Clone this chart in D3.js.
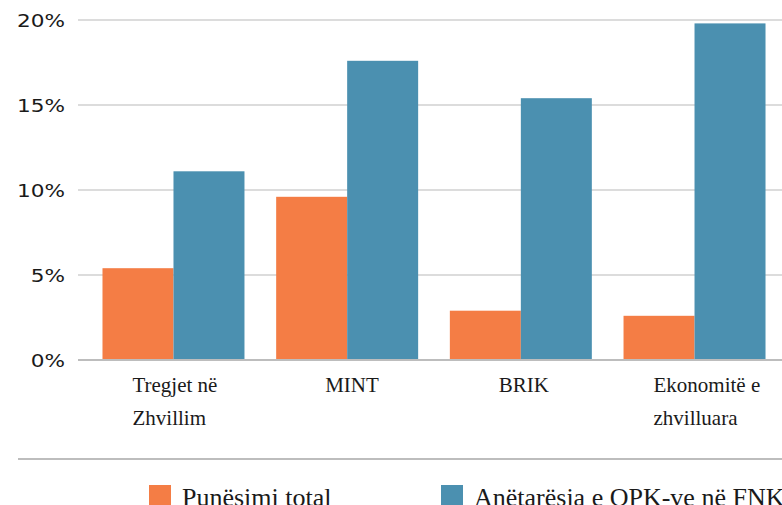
<!DOCTYPE html>
<html>
<head>
<meta charset="utf-8">
<script src="https://cdn.jsdelivr.net/npm/d3@7"></script>
<style>
  html, body { margin: 0; padding: 0; background: #fff; overflow: hidden; }
  svg { display: block; }
</style>
</head>
<body>
<svg id="chart" width="782" height="505"></svg>
<script>
// Data
const categories = ['Tregjet në Zhvillim', 'MINT', 'BRIK', 'Ekonomitë e zhvilluara'];
const categoryLines = [['Tregjet në', 'Zhvillim'], ['MINT'], ['BRIK'], ['Ekonomitë e', 'zhvilluara']];
const seriesNames = ['Punësimi total', 'Anëtarësia e OPK-ve në FNK'];
const punesimi = [5.4, 9.6, 2.9, 2.6];
const anetaresia = [11.1, 17.6, 15.4, 19.8];
const yTicks = [0, 5, 10, 15, 20];
const colors = ['#f47d45', '#4b90b0'];

const rows = categories.map((c, i) => ({ cat: c, values: [punesimi[i], anetaresia[i]] }));

const svg = d3.select('#chart');

// Scales
const x = d3.scaleBand().domain(categories).range([78, 790]).paddingInner(0.1825).paddingOuter(0.141);
const xs = d3.scaleBand().domain(seriesNames).range([0, x.bandwidth()]).padding(0);
const y = d3.scaleLinear().domain([0, 20]).range([360, 20]);

// Gridlines
svg.append('g').selectAll('line').data(yTicks.filter(t => t > 0)).enter()
  .append('line')
  .attr('x1', 78).attr('x2', 782)
  .attr('y1', d => y(d)).attr('y2', d => y(d))
  .attr('stroke', '#dcdcdc').attr('stroke-width', 2);

// Y labels
svg.append('g').selectAll('text').data(yTicks).enter()
  .append('text')
  .attr('transform', d => `translate(65,${y(d) + 1}) scale(1.2,1)`)
  .attr('text-anchor', 'end')
  .attr('dy', '0.35em')
  .attr('font-family', 'DejaVu Sans, sans-serif')
  .attr('font-size', 18)
  .attr('fill', '#1a1a1a')
  .text(d => d + '%');

// Bars
const groups = svg.append('g').selectAll('g').data(rows).enter()
  .append('g').attr('transform', d => `translate(${x(d.cat)},0)`);
groups.selectAll('rect').data(d => d.values.map((v, j) => ({ name: seriesNames[j], v, j }))).enter()
  .append('rect')
  .attr('x', d => xs(d.name))
  .attr('width', xs.bandwidth())
  .attr('y', d => y(d.v))
  .attr('height', d => y(0) - y(d.v))
  .attr('fill', d => colors[d.j]);

// Baseline
svg.append('line')
  .attr('x1', 78).attr('x2', 782)
  .attr('y1', y(0)).attr('y2', y(0))
  .attr('stroke', '#bdbdbd').attr('stroke-width', 2);

// Category labels (left-aligned block)
const lab = svg.append('g').selectAll('text').data(categories).enter()
  .append('text')
  .attr('font-family', 'Liberation Serif, serif')
  .attr('font-size', 21)
  .attr('fill', '#1a1a1a');
lab.each(function (d, i) {
  const lines = categoryLines[i];
  const left = x(d) + x.bandwidth() / 2 - (lines.length > 1 ? 41 : 22);
  d3.select(this).selectAll('tspan').data(lines).enter()
    .append('tspan')
    .attr('x', left)
    .attr('y', (l, k) => 392 + k * 33)
    .text(l => l);
});

// Separator
svg.append('line')
  .attr('x1', 18).attr('x2', 782)
  .attr('y1', 459).attr('y2', 459)
  .attr('stroke', '#bdbdbd').attr('stroke-width', 2);

// Legend
const leg = svg.append('g').selectAll('g').data(seriesNames).enter()
  .append('g').attr('transform', (d, i) => `translate(${149 + i * 292},485)`);
leg.append('rect').attr('width', 22).attr('height', 22).attr('fill', (d, i) => colors[i]);
leg.append('text')
  .attr('x', 33).attr('y', 20.5)
  .attr('font-family', 'Liberation Serif, serif')
  .attr('font-size', 26)
  .attr('fill', '#1a1a1a')
  .text(d => d);
</script>
</body>
</html>
